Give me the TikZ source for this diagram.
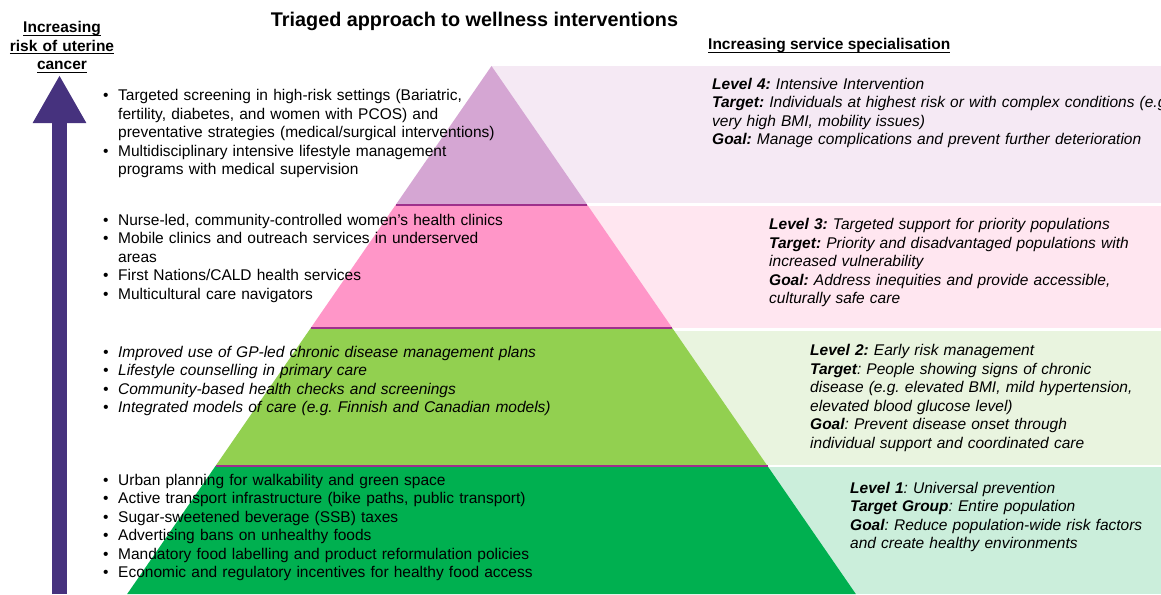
\documentclass[tikz,border=0pt]{standalone}
\usepackage{fontspec}
\setmainfont{Liberation Sans}
\usetikzlibrary{arrows.meta}

\definecolor{riskarrow}{RGB}{70,50,126}
\definecolor{pyrfour}{RGB}{213,166,211}
\definecolor{pyrthree}{RGB}{255,150,200}
\definecolor{pyrtwo}{RGB}{146,208,80}
\definecolor{pyrone}{RGB}{0,176,80}
\definecolor{bandfour}{RGB}{245,233,244}
\definecolor{bandthree}{RGB}{255,230,240}
\definecolor{bandtwo}{RGB}{233,244,223}
\definecolor{bandone}{RGB}{203,238,219}
\definecolor{divline}{RGB}{158,48,140}

\newcommand{\bulitem}{\hangindent=15pt\hangafter=1\noindent\makebox[15pt][l]{\textbullet}}
\newcommand{\bul}{\par\bulitem}
\newcommand{\lab}[1]{{\bfseries #1}}
\newcommand{\uln}[1]{\setbox0=\hbox{#1}\makebox[0pt][l]{\rule[-3pt]{\wd0}{1.2pt}}\box0}

\begin{document}
\begin{tikzpicture}[x=1pt,y=-1pt,
    txt/.style={inner sep=0pt,font=\fontsize{15.5}{18.5}\selectfont\frenchspacing},
    head/.style={txt,anchor=base,text width=140pt,align=center,font=\fontsize{15.5}{18.5}\selectfont\bfseries},
    actlist/.style={txt,anchor=base west,text width=470pt,align=left},
    levelbox/.style={txt,anchor=base west,text width=470pt,align=left,font=\fontsize{15.5}{18.5}\selectfont\frenchspacing\itshape}]
    \useasboundingbox (0,0) rectangle (1161,594);

    % Bands behind the levels
    \foreach \ya/\yb/\col in {66/203.3/bandfour,205.7/327.7/bandthree,330.7/465/bandtwo,467.3/594/bandone} {
        \fill[\col] (491.5,\ya) rectangle (1161,\yb);
    }

    % Pyramid
    \foreach \ya/\yb/\col in {66/204.5/pyrfour,204.5/328/pyrthree,328/466/pyrtwo,466/594/pyrone} {
        \fill[\col] ({491.5-0.69*(\ya-66)},\ya) -- ({491.5+0.69*(\ya-66)},\ya)
            -- ({491.5+0.69*(\yb-66)},\yb) -- ({491.5-0.69*(\yb-66)},\yb) -- cycle;
    }
    \foreach \y in {204.5,328,466} {
        \draw[divline,line width=2pt] ({491.5-0.69*(\y-66)},\y) -- ({491.5+0.69*(\y-66)},\y);
    }

    % Risk arrow
    \coordinate (riskbase) at (59.5,594);
    \coordinate (risktip) at (59.5,75);
    \draw[riskarrow,line width=15pt,-{Triangle[length=48pt,width=50pt]}] (riskbase) -- (risktip);

    % Headings
    \node[txt,anchor=base,font=\fontsize{19.8}{23}\selectfont\bfseries] (title) at (474.5,27) {Triaged approach to wellness interventions};
    \node[head] (riskhead) at (62,33) {\uln{Increasing}\\\uln{risk of uterine}\\\uln{cancer}};
    \node[txt,anchor=base west,font=\fontsize{15.5}{18.5}\selectfont\bfseries] (servicehead) at (708,50) {\uln{Increasing service specialisation}};

    % Interventions
    \node[actlist] (actfour) at (103,100.5) {\bulitem Targeted screening in high-risk settings (Bariatric,\newline fertility, diabetes, and women with PCOS) and\newline preventative strategies (medical/surgical interventions)
        \bul Multidisciplinary intensive lifestyle management\newline programs with medical supervision\par};
    \node[actlist] (actthree) at (103,225) {\bulitem Nurse-led, community-controlled women's health clinics
        \bul Mobile clinics and outreach services in underserved\newline areas
        \bul First Nations/CALD health services
        \bul Multicultural care navigators\par};
    \node[actlist,font=\fontsize{15.5}{18.5}\selectfont\frenchspacing\itshape] (acttwo) at (103,357) {\bulitem Improved use of GP-led chronic disease management plans
        \bul Lifestyle counselling in primary care
        \bul Community-based health checks and screenings
        \bul Integrated models of care (e.g. Finnish and Canadian models)\par};
    \node[actlist] (actone) at (103,485) {\bulitem Urban planning for walkability and green space
        \bul Active transport infrastructure (bike paths, public transport)
        \bul Sugar-sweetened beverage (SSB) taxes
        \bul Advertising bans on unhealthy foods
        \bul Mandatory food labelling and product reformulation policies
        \bul Economic and regulatory incentives for healthy food access\par};

    % Levels
    \node[levelbox] (levelfour) at (712,89) {\lab{Level 4:} Intensive Intervention\\
        \lab{Target:} Individuals at highest risk or with complex conditions (e.g.\\
        very high BMI, mobility issues)\\
        \lab{Goal:} Manage complications and prevent further deterioration};
    \node[levelbox] (levelthree) at (769,229.5) {\lab{Level 3:} Targeted support for priority populations\\
        \lab{Target:} Priority and disadvantaged populations with\\
        increased vulnerability\\
        \lab{Goal:} Address inequities and provide accessible,\\
        culturally safe care};
    \node[levelbox] (leveltwo) at (810,355.5) {\lab{Level 2:} Early risk management\\
        \lab{Target}: People showing signs of chronic\\
        disease (e.g. elevated BMI, mild hypertension,\\
        elevated blood glucose level)\\
        \lab{Goal}: Prevent disease onset through\\
        individual support and coordinated care};
    \node[levelbox] (levelone) at (850,493) {\lab{Level 1}: Universal prevention\\
        \lab{Target Group}: Entire population\\
        \lab{Goal}: Reduce population-wide risk factors\\
        and create healthy environments};
\end{tikzpicture}
\end{document}
